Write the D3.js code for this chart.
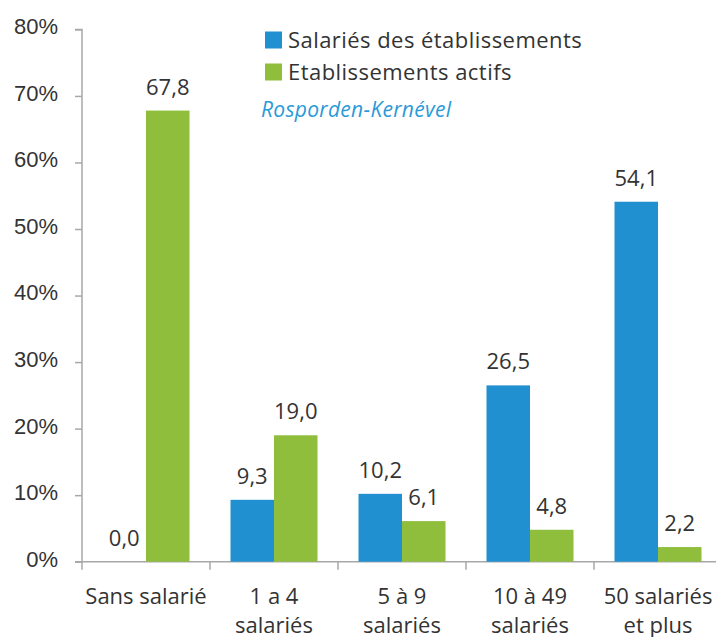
<!DOCTYPE html>
<html lang="fr">
<head>
<meta charset="utf-8">
<script src="https://cdn.jsdelivr.net/npm/d3@7"></script>
<style>
  html, body { margin: 0; padding: 0; background: #fff; }
  svg { display: block; font-family: "Open Sans", "Noto Sans", sans-serif; }
</style>
</head>
<body>
<svg id="chart" width="716" height="637"></svg>
<script>
// Répartition par taille d'établissement (%)
const categories = [
  ["Sans salarié"],
  ["1 a 4", "salariés"],
  ["5 à 9", "salariés"],
  ["10 à 49", "salariés"],
  ["50 salariés", "et plus"]
];
const seriesNames = ["Salariés des établissements", "Etablissements actifs"];
const salaries = [0.0, 9.3, 10.2, 26.5, 54.1];
const etablissements = [67.8, 19.0, 6.1, 4.8, 2.2];
const yTicks = [0, 10, 20, 30, 40, 50, 60, 70, 80];
const placeName = "Rosporden-Kernével";

const colors = ["#2190d0", "#8fbe3d"];
const textColor = "#333333";
const axisColor = "#a8a8a8";

const svg = d3.select("#chart");
const marginLeft = 82;
const x0 = d3.scaleBand()
  .domain(d3.range(categories.length))
  .range([marginLeft, marginLeft + 128 * categories.length])
  .padding(0);
const x1 = d3.scaleBand()
  .domain([0, 1])
  .range([x0.bandwidth() / 2 - 43.5, x0.bandwidth() / 2 + 43.5])
  .padding(0);
const y = d3.scaleLinear().domain([0, 80]).range([561.7, 29.4]);

const fmt = v => d3.format(".1f")(v).replace(".", ",");

// Axe vertical
const yAxis = svg.append("g")
  .attr("transform", `translate(${marginLeft},0)`)
  .call(d3.axisLeft(y).tickValues(yTicks).tickSize(7).tickPadding(17)
    .tickFormat(d => d + "%"));
yAxis.selectAll("path").attr("d", `M-7,${y(80)}H0V${y(0)}`).attr("stroke", axisColor).attr("stroke-width", 1.5);
yAxis.selectAll("line").attr("stroke", axisColor).attr("stroke-width", 1.5);
yAxis.selectAll("text")
  .attr("fill", textColor)
  .style("font-size", "22px")
  .attr("dy", "0.2em");

// Axe horizontal
const xg = svg.append("g");
xg.append("line")
  .attr("x1", marginLeft - 7).attr("x2", 716)
  .attr("y1", y(0)).attr("y2", y(0))
  .attr("stroke", axisColor).attr("stroke-width", 1.5);
xg.selectAll("line.tick")
  .data(d3.range(categories.length))
  .join("line")
  .attr("class", "tick")
  .attr("x1", i => x0(i)).attr("x2", i => x0(i))
  .attr("y1", y(0)).attr("y2", y(0) + 8)
  .attr("stroke", axisColor).attr("stroke-width", 1.5);
const catLabels = xg.selectAll("text.cat")
  .data(categories)
  .join("text")
  .attr("class", "cat")
  .attr("text-anchor", "middle")
  .attr("fill", textColor)
  .style("font-size", "22px")
  .attr("x", (d, i) => x0(i) + x0.bandwidth() / 2)
  .attr("y", 604);
catLabels.each(function (lines) {
  const t = d3.select(this);
  lines.forEach((ln, k) => {
    t.append("tspan")
      .attr("x", t.attr("x"))
      .attr("dy", k === 0 ? 0 : 29)
      .text(ln);
  });
});

// Barres
const rows = categories.map((c, i) => [salaries[i], etablissements[i]]);
const groups = svg.append("g").selectAll("g")
  .data(rows)
  .join("g")
  .attr("transform", (d, i) => `translate(${x0(i)},0)`);

groups.selectAll("rect")
  .data(d => d)
  .join("rect")
  .attr("x", (d, k) => x1(k))
  .attr("width", x1.bandwidth())
  .attr("y", d => y(d))
  .attr("height", d => y(0) - y(d))
  .attr("fill", (d, k) => colors[k]);

groups.selectAll("text")
  .data(d => d)
  .join("text")
  .attr("x", (d, k) => x1(k) + x1.bandwidth() / 2)
  .attr("y", d => y(d) - 16)
  .attr("text-anchor", "middle")
  .attr("fill", textColor)
  .style("font-size", "22px")
  .text(d => fmt(d));

// Légende
const legend = svg.append("g").attr("transform", "translate(265,0)");
seriesNames.forEach((name, k) => {
  const cy = 40 + k * 32;
  legend.append("rect")
    .attr("x", 0).attr("y", cy - 8.5)
    .attr("width", 17).attr("height", 17)
    .attr("fill", colors[k]);
  legend.append("text")
    .attr("x", 23).attr("y", cy)
    .attr("dy", "0.36em")
    .attr("fill", textColor)
    .style("font-size", "22px")
    .style("letter-spacing", "0.45px")
    .text(name);
});

svg.append("text")
  .attr("x", 261).attr("y", 117)
  .attr("fill", "#2b9ad8")
  .style("font-size", "21px")
  .style("font-style", "italic")
  .style("letter-spacing", "0.3px")
  .text(placeName);
</script>
</body>
</html>
